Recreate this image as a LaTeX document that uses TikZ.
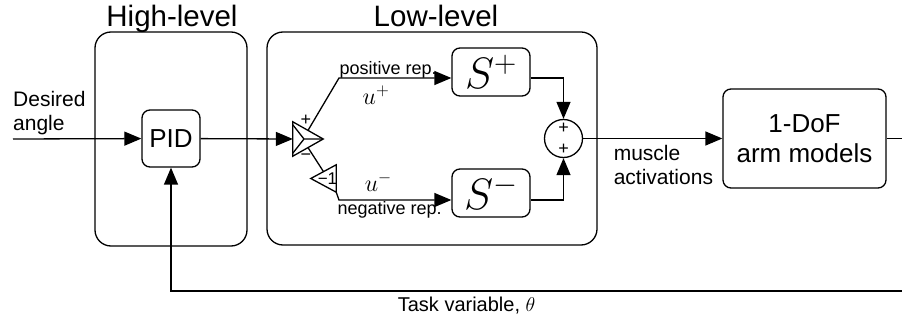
\documentclass[tikz,border=0pt]{standalone}
\usepackage{fix-cm}
\usepackage{fontspec}
\setmainfont{Liberation Sans}
\usetikzlibrary{arrows.meta,calc}

\newcommand{\fsz}[2]{\fontsize{#1}{#2}\selectfont}

\tikzset{
  box/.style={draw, line width=1.3pt, rounded corners=8pt, inner sep=0pt},
  group/.style={draw, line width=1.3pt, rounded corners=16pt},
  wire/.style={line width=1.3pt},
  sig/.style={wire, -{Triangle[length=17pt,width=14pt]}},
}

\begin{document}
\begin{tikzpicture}[x=1pt, y=-1pt, font=\fsz{21}{24}]
  \useasboundingbox (0,0) rectangle (902,320);
  \path (171,139)     node[group, minimum width=152pt, minimum height=214pt] (HL) {}
        (432,138.5)   node[group, minimum width=330pt, minimum height=213pt] (LL) {}
        (172,27)      node[anchor=base, font=\fsz{29.5}{31}] (HLtitle) {High-level}
        (436,27)      node[anchor=base, font=\fsz{29.5}{31}] (LLtitle) {Low-level}
        (171,138.5)   node[box, minimum width=58pt, minimum height=57pt, font=\fsz{26}{28}] (PID) {PID}
        (13,91)       node[anchor=north west, inner sep=0pt, align=left] (Desired) {Desired\\angle}
        (13,139)      coordinate (In)
        (308,139)     node[minimum width=30pt, minimum height=34pt, inner sep=0pt] (Split) {}
        (306,120)     node[font=\fsz{18}{20}, inner sep=0pt] (SplitP) {+}
        (306,157)     node[font=\fsz{18}{20}, inner sep=0pt] (SplitN) {−}
        (323.5,178.5) node[minimum width=25pt, minimum height=27pt, inner sep=0pt,
                           label={[font=\fsz{17}{18}, xshift=4pt]center:−1}] (Gain) {}
        (491,72)      node[box, minimum width=78pt, minimum height=48pt, font=\fsz{44}{44}] (Sp) {$S^+$}
        (491,193)     node[box, minimum width=78pt, minimum height=48pt, font=\fsz{44}{44}] (Sn) {$S^-$}
        (563.5,138.5) node[draw, wire, circle, minimum size=38pt, inner sep=0pt, align=center,
                           font=\fsz{18}{21}] (Sum) {+\\+}
        (804.5,138.5) node[box, minimum width=163pt, minimum height=99pt, align=center,
                           font=\fsz{26}{30}] (Arm) {1-DoF\\arm models}
        (339,78)      coordinate (Up)
        (339,200)     coordinate (Dn)
        (910,291)     coordinate (Back);

  \draw[sig] (In) -- (PID);
  \draw[sig] (PID) -- (Split.west);
  \draw[wire] (Split.north west) -- (Split.east) -- (Split.south west) -- cycle;
  \draw[wire] ([yshift=-3pt]Split.north west) -- ([xshift=-4pt]Split.center) -- ([yshift=3pt]Split.south west)
              ([xshift=-4pt]Split.center) -- (Split.east);
  \draw[wire] (Gain.west) -- (Gain.north east) -- (Gain.south east) -- cycle;
  \draw[wire] ($(Split.south west)!0.5!(Split.east)$) -- ($(Gain.west)!0.5!(Gain.north east)$);
  \draw[sig] ($(Split.north west)!0.5!(Split.east)$) -- (Up) -- (Up -| Sp.west)
    node[pos=0, anchor=base west, yshift=3pt, inner sep=0pt, font=\fsz{18}{20}] (PosLbl) {positive rep.}
    node[pos=0.33, below=7pt, inner sep=0pt, font=\fsz{24}{24}] (UpLbl) {$u^+$};
  \draw[sig] (Gain.south east) -- (Dn) -- (Dn -| Sn.west)
    node[pos=0, anchor=base west, xshift=-2pt, yshift=-15pt, inner sep=0pt, font=\fsz{18}{20}] (NegLbl) {negative rep.}
    node[pos=0.35, above=8pt, inner sep=0pt, font=\fsz{24}{24}] (UnLbl) {$u^-$};
  \draw[sig] (Sp.east |- Up) -| (Sum.north);
  \draw[sig] (Sn.east |- Dn) -| (Sum.south);
  \draw[sig] (Sum) -- (Arm)
    node[pos=0, anchor=north west, xshift=30pt, yshift=-6pt, inner sep=0pt, align=left] (Muscle) {muscle\\activations};
  \draw[sig] (Arm) -| (Back) -| (PID.south)
    node[pos=0.3, below=5pt, inner sep=0pt, font=\fsz{20}{22}] (TaskLbl) {Task variable, $\theta$};
\end{tikzpicture}
\end{document}
